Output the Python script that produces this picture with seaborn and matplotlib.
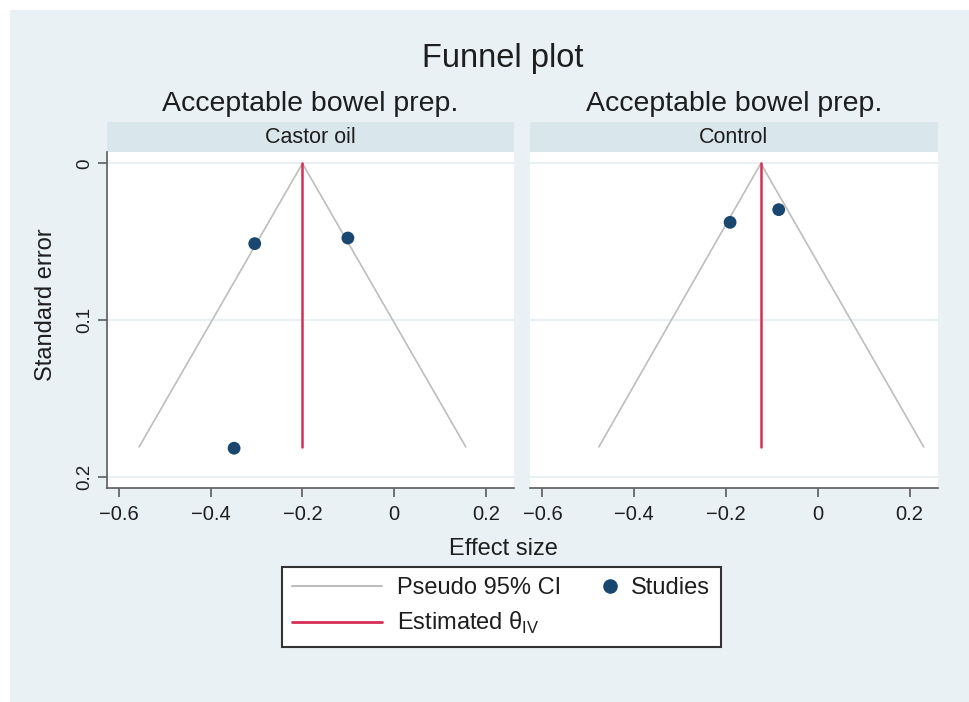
import pandas as pd
import seaborn as sns
import matplotlib.pyplot as plt
from matplotlib.lines import Line2D
from matplotlib.patches import Rectangle
from matplotlib.legend_handler import HandlerLine2D

# ---------------- Data ----------------
panels = ["Castor oil", "Control"]
castor_es = [-0.304, -0.101, -0.349]
castor_se = [0.0512, 0.0476, 0.1818]
control_es = [-0.191, -0.085]
control_se = [0.0376, 0.0295]
theta_iv = [-0.200, -0.124]   # estimated effect per panel
ci_lo = [-0.556, -0.477]      # pseudo 95% CI at the foot of each funnel
ci_hi = [0.156, 0.231]
se_max = 0.181
x_ticks = [-0.6, -0.4, -0.2, 0, 0.2]
x_labels = ["−0.6", "−0.4", "−0.2", "0", "0.2"]
y_ticks = [0, 0.1, 0.2]
y_labels = ["0", "0.1", "0.2"]

studies = pd.DataFrame({
    "group": ["Castor oil"] * len(castor_es) + ["Control"] * len(control_es),
    "es": castor_es + control_es,
    "se": castor_se + control_se,
})

# ---------------- Style ----------------
sns.set_style("white")
plt.rcParams["font.family"] = ["Liberation Sans", "DejaVu Sans"]
plt.rcParams["mathtext.fontset"] = "custom"
plt.rcParams["mathtext.rm"] = "Liberation Sans"

BG = "#e9f1f4"
STRIP = "#d9e6ec"
NAVY = "#1a476f"
RED = "#d62e54"
GREY = "#bdbdbd"
AXC = "#5c5c5c"
TXT = "#1e1e1e"


class RightMarker(HandlerLine2D):
    # put the single legend marker near the right end of the key
    def get_xdata(self, legend, xdescent, ydescent, width, height, fontsize):
        x = width - xdescent - 0.25 * fontsize
        return [x - 1, x + 1], [x]


fig = plt.figure(figsize=(9.7, 7.02), dpi=100, facecolor="white")
fig.add_artist(Rectangle((10 / 970, 0), 1, 1 - 10 / 702, transform=fig.transFigure,
                         facecolor=BG, edgecolor="none", zorder=-10))

lefts = [0.1098, 0.5464]
axes = [fig.add_axes([l, 0.3053, 0.4201, 0.4786]) for l in lefts]

for i, (ax, name) in enumerate(zip(axes, panels)):
    ax.set_facecolor("white")
    sub = studies[studies["group"] == name]

    sns.lineplot(x=[ci_lo[i], theta_iv[i], ci_hi[i]], y=[se_max, 0, se_max],
                 sort=False, estimator=None, color=GREY, lw=1.2, ax=ax)
    sns.lineplot(x=[theta_iv[i], theta_iv[i]], y=[0, se_max],
                 sort=False, estimator=None, color=RED, lw=1.8, ax=ax)
    sns.scatterplot(data=sub, x="es", y="se", color=NAVY, s=85,
                    edgecolor="none", ax=ax, zorder=3)

    ax.set_xlim(-0.627, 0.261)
    ax.set_ylim(0.207, -0.0075)
    ax.set_xticks(x_ticks)
    ax.set_xticklabels(x_labels, fontsize=14.5, color=TXT)
    ax.set_yticks(y_ticks)
    ax.set_xlabel("")
    ax.set_ylabel("")
    ax.set_axisbelow(True)
    ax.yaxis.grid(True, color="#e6eff2", lw=1.3)
    ax.xaxis.grid(False)

    for s in ["top", "right"]:
        ax.spines[s].set_visible(False)
    ax.spines["bottom"].set_color(AXC)
    ax.spines["bottom"].set_linewidth(1.2)
    ax.tick_params(axis="x", length=6.5, width=1.2, color=AXC, pad=6, bottom=True)

    if i == 0:
        ax.spines["left"].set_color(AXC)
        ax.spines["left"].set_linewidth(1.2)
        ax.set_yticklabels(y_labels, fontsize=13.5, color=TXT, rotation=90, va="center")
        ax.tick_params(axis="y", length=6.5, width=1.2, color=AXC, pad=3, left=True)
    else:
        ax.spines["left"].set_visible(False)
        ax.set_yticklabels([])
        ax.tick_params(axis="y", length=0)

    # facet strip and panel title
    ax.add_patch(Rectangle((0, 1.0), 1, 0.0893, transform=ax.transAxes,
                           facecolor=STRIP, edgecolor="none", clip_on=False))
    ax.text(0.5, 1.025, name, transform=ax.transAxes, ha="center", va="baseline",
            fontsize=15.5, color=TXT)
    ax.text(0.5, 1.121, "Acceptable bowel prep.", transform=ax.transAxes,
            ha="center", va="baseline", fontsize=20.5, color=TXT)

fig.text(0.518, 0.905, "Funnel plot", ha="center", va="baseline", fontsize=23.5, color=TXT)
fig.text(503 / 970, 1 - 555 / 702, "Effect size", ha="center", va="baseline",
         fontsize=17, color=TXT)
fig.text(46 / 970, 1 - 305 / 702, "Standard error", ha="center", va="center",
         rotation=90, fontsize=17, color=TXT)

# ---------------- Legend ----------------
h_ci = Line2D([], [], color=GREY, lw=1.5)
h_est = Line2D([], [], color=RED, lw=2)
h_st = Line2D([], [], color=NAVY, marker="o", markersize=10.5, lw=0, markeredgecolor="none")
leg = fig.legend([h_ci, h_est, h_st], ["Pseudo 95% CI", "Estimated θ$_{\\mathrm{IV}}$", "Studies"],
                 ncol=2, loc="upper left", bbox_to_anchor=(0.2904, 0.1928), borderaxespad=0,
                 fontsize=17, handlelength=3.8, handletextpad=0.62, columnspacing=-1.45,
                 borderpad=0.45, labelspacing=0.45, frameon=True, fancybox=False,
                 framealpha=1, facecolor="white", edgecolor="#333333",
                 handler_map={h_st: RightMarker()})
leg.get_frame().set_linewidth(1.5)
for t in leg.get_texts():
    t.set_color(TXT)

plt.savefig("out.png", dpi=100, facecolor=fig.get_facecolor())
